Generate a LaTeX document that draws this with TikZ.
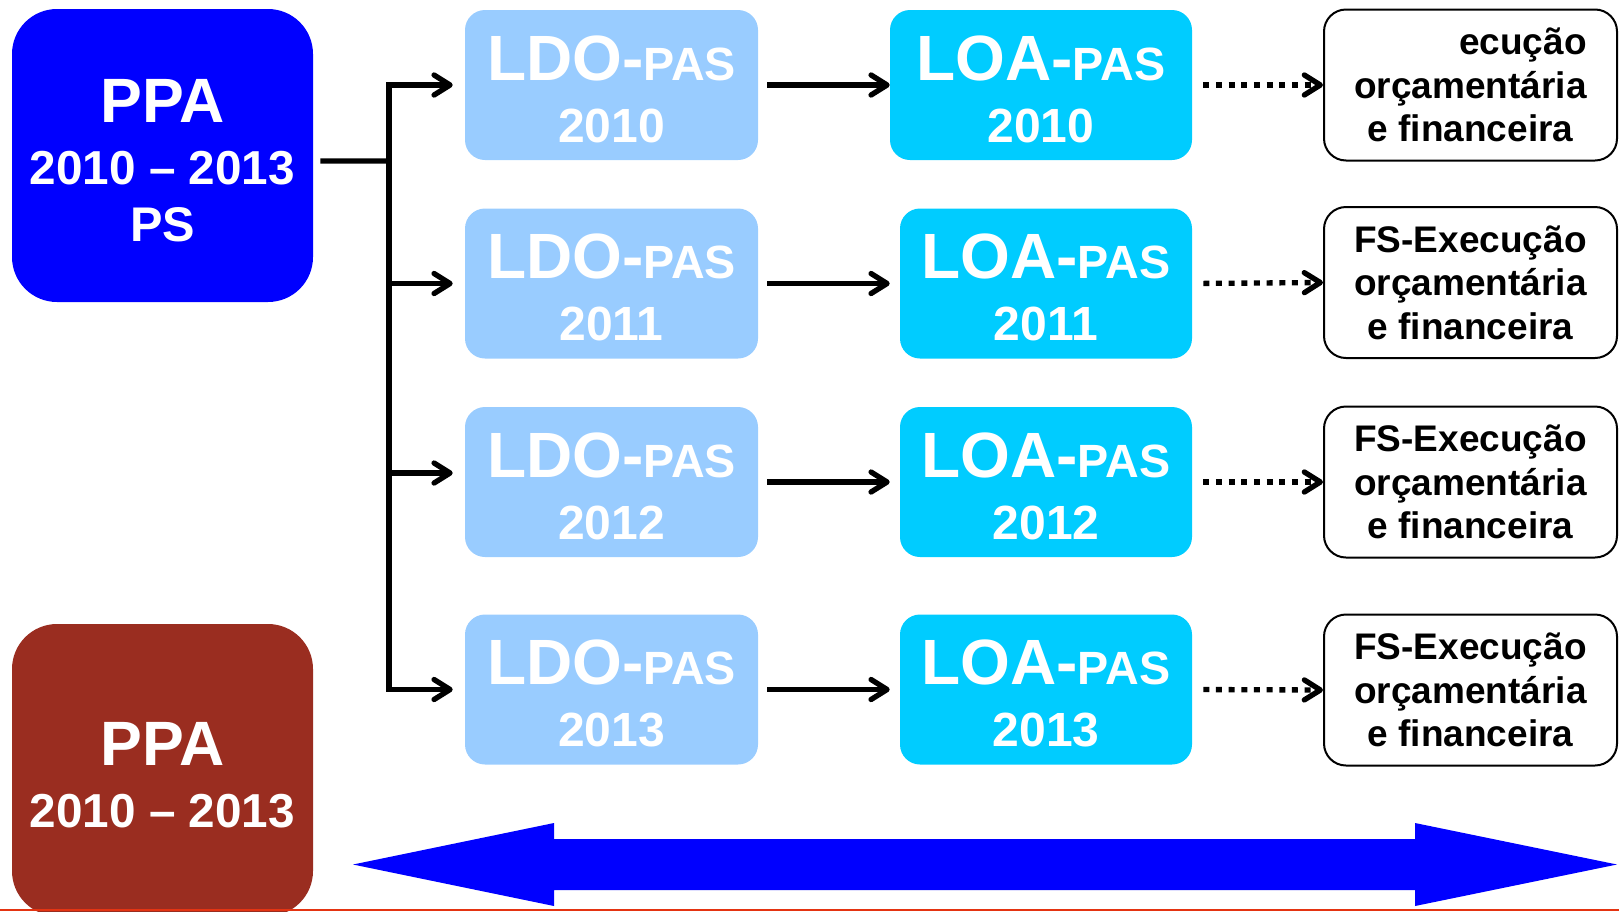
\documentclass[tikz,border=0pt]{standalone}
\usepackage{fontspec}
\setmainfont{Liberation Sans}
\usetikzlibrary{arrows.meta}

\definecolor{ppaBlue}{RGB}{0,0,255}
\definecolor{ppaRed}{RGB}{154,45,32}
\definecolor{ldoBlue}{RGB}{153,204,255}
\definecolor{loaCyan}{RGB}{0,204,255}
\definecolor{footRed}{RGB}{228,52,18}

% two-line label of the LDO / LOA boxes
\newcommand{\paslabel}[2]{\rule{0pt}{39.5pt}{\fontsize{48}{46.5}\selectfont #1-}{\fontsize{35}{46.5}\selectfont PAS}\\#2}

\begin{document}
\begin{tikzpicture}[x=0.75pt,y=0.75pt,yscale=-1,xscale=1,
    ppa box/.style={rounded corners=33.75pt, inner sep=0pt, minimum width=225.75pt, text=white, align=center, font=\bfseries\fontsize{35.75}{46.5}\selectfont},
    pas box/.style={rounded corners=15pt, inner sep=0pt, minimum height=112.5pt, text=white, align=center, font=\bfseries\fontsize{36}{46.5}\selectfont},
    fs box/.style={draw=black, line width=1.5pt, rounded corners=16.5pt, inner sep=0pt, minimum width=219.75pt, minimum height=113.25pt, align=center, font=\bfseries\fontsize{27.75}{32.6}\selectfont},
    flow/.style={line width=4pt, -{Straight Barb[length=12pt,width=15pt,round]}},
    dotflow/.style={flow, dash pattern=on 4.5pt off 5pt}]
  %set diagram to the size of the slide
  \useasboundingbox (0,0) rectangle (1619,911);
  \clip (0,0) rectangle (1619,911);

  %Shape: Rounded Rect -- PPA with PS
  \node[ppa box, fill=ppaBlue, minimum height=219.75pt] (ppaPS) at (162.5,155.5)
    {\rule{0pt}{40.5pt}{\fontsize{47}{46.5}\selectfont PPA}\\2010 – 2013\\[-3.75pt]{\fontsize{36.5}{46.5}\selectfont PS}};
  %Shape: Rounded Rect -- PPA
  \node[ppa box, fill=ppaRed, minimum height=219pt] (ppa) at (162.5,770)
    {\rule{0pt}{39.7pt}{\fontsize{47}{46.5}\selectfont PPA}\\2010 – 2013};

  %Shape: Rounded Rect -- LDO column
  \foreach \i/\y/\yr in {1/85/2010, 2/283.5/2011, 3/482/2012, 4/689.5/2013}
    \node[pas box, fill=ldoBlue, minimum width=219.75pt] (ldo\i) at (611.5,\y) {\paslabel{LDO}{\yr}};

  %Shape: Rounded Rect -- LOA column
  \node[pas box, fill=loaCyan, minimum width=226.5pt] (loa1) at (1041,85) {\paslabel{LOA}{2010}};
  \foreach \i/\y/\yr in {2/283.5/2011, 3/482/2012, 4/689.5/2013}
    \node[pas box, fill=loaCyan, minimum width=219pt] (loa\i) at (1046,\y) {\paslabel{LOA}{\yr}};

  %Shape: Rounded Rect -- execution column
  \node[fs box] (fs1) at (1470.5,85) {\phantom{FS-Ex}ecução\\orçamentária\\e financeira};
  \foreach \i/\y in {2/282.5, 3/482, 4/690}
    \node[fs box] (fs\i) at (1470.5,\y) {FS-Execução\\orçamentária\\e financeira};

  %Straight Lines -- fork from the PPA
  \coordinate (fork) at (389,161);
  \draw[line width=4pt, shorten <=5.25pt] ([yshift=4.1pt]ppaPS.east) -- (fork);
  \draw[line width=4pt, line cap=rect] (fork |- ldo1.west) -- (fork |- ldo4.west);
  \foreach \i/\dy in {1/0, 2/0, 3/-6.75, 4/0} {
    \coordinate (in\i) at ([yshift=\dy pt]ldo\i.west);
    \draw[flow, shorten >=9pt] (in\i -| fork) -- (in\i);
  }

  %Straight Lines -- LDO to LOA, LOA to execution
  \foreach \i in {1,...,4} {
    \draw[flow, shorten <=6.75pt] (ldo\i.east) -- (ldo\i.east -| loa1.west);
    \draw[dotflow, shorten <=8.25pt] (loa\i.east) -- (fs\i.west);
  }

  %Shape: Double Arrow
  \fill[ppaBlue] (353,864.5) -- (554,823) -- (554,839) -- (1415,839) -- (1415,823) -- (1617,864.5)
    -- (1415,906) -- (1415,890) -- (554,890) -- (554,906) -- cycle;

  %Straight Lines -- slide foot
  \draw[footRed, line width=1.9pt] (0,910) -- (1619,910);
\end{tikzpicture}
\end{document}
